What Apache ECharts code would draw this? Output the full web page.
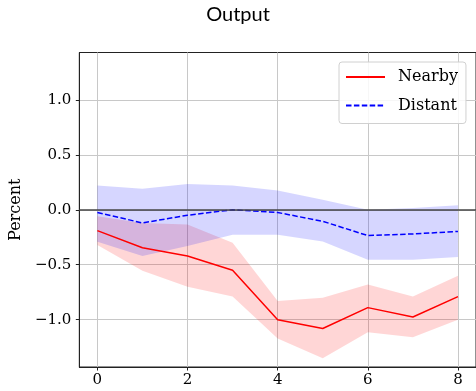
<!DOCTYPE html>
<html><head><meta charset="utf-8">
<script src="https://cdn.jsdelivr.net/npm/echarts@6/dist/echarts.min.js"></script>
<style>html,body{margin:0;padding:0;background:#fff}#c{width:476px;height:391px}</style>
</head><body><div id="c"></div>
<script>
var horizons = [0, 1, 2, 3, 4, 5, 6, 7, 8];
var nearby     = [-0.19, -0.345, -0.42, -0.55, -1.00, -1.08, -0.89, -0.975, -0.79];
var nearbyLow  = [-0.32, -0.555, -0.70, -0.79, -1.17, -1.35, -1.115, -1.16, -1.00];
var nearbyHigh = [-0.06, -0.12, -0.135, -0.30, -0.83, -0.80, -0.68, -0.79, -0.60];
var distant     = [-0.025, -0.12, -0.05, 0.0, -0.025, -0.105, -0.235, -0.22, -0.197];
var distantLow  = [-0.29, -0.42, -0.33, -0.227, -0.227, -0.288, -0.455, -0.455, -0.43];
var distantHigh = [0.22, 0.19, 0.235, 0.22, 0.175, 0.09, 0.0, 0.015, 0.04];
var xTicks = [0, 2, 4, 6, 8];
var yTicks = [-1.0, -0.5, 0.0, 0.5, 1.0];

function pairs(ys) { return horizons.map(function (h, i) { return [h, ys[i]]; }); }
function bandRows(lo, hi) { return horizons.map(function (h, i) { return [h, lo[i], hi[i]]; }); }
function bandRenderer(color) {
  return function (params, api) {
    if (params.dataIndexInside !== 0) return null;
    var n = params.dataInsideLength, top = [], bot = [];
    for (var j = 0; j < n; j++) {
      var x = api.value(0, j);
      top.push(api.coord([x, api.value(2, j)]));
      bot.unshift(api.coord([x, api.value(1, j)]));
    }
    return { type: 'polygon', shape: { points: top.concat(bot) }, style: { fill: color, stroke: null } };
  };
}

var serif = 'DejaVu Serif';
var chart = echarts.init(document.getElementById('c'));
chart.setOption({
  animation: false,
  title: { text: 'Output', left: 'center', top: 5, padding: 0, textStyle: { fontFamily: 'Lato', fontWeight: 'normal', fontSize: 20, color: '#000' } },
  grid: { left: 79, right: -2, top: 52.5, bottom: 24, show: true, borderColor: '#222', borderWidth: 1, backgroundColor: 'transparent' },
  legend: {
    orient: 'vertical', left: 339, top: 62, padding: [5, 8, 8, 6], itemGap: 8.5,
    itemWidth: 39, itemHeight: 14,
    itemStyle: { opacity: 0 },
    backgroundColor: 'rgba(255,255,255,0.85)', borderColor: '#d0d0d0', borderWidth: 1, borderRadius: 3,
    textStyle: { fontFamily: serif, fontSize: 16, color: '#000', lineHeight: 20, padding: [0, 0, 0, 8] },
    data: ['Nearby', 'Distant']
  },
  xAxis: {
    type: 'value', min: -0.4, max: 8.4,
    axisLine: { show: true, onZero: false, lineStyle: { color: '#222', width: 1 } },
    axisTick: { show: true, inside: false, length: 3.5, lineStyle: { color: '#222' }, customValues: xTicks },
    axisLabel: { customValues: xTicks, margin: 6, fontFamily: serif, fontSize: 15, color: '#000' },
    splitLine: { show: true, lineStyle: { color: '#c8c8c8', width: 1 } }
  },
  yAxis: {
    type: 'value', min: -1.43, max: 1.43,
    name: 'Percent', nameLocation: 'middle', nameGap: 55,
    nameTextStyle: { fontFamily: serif, fontSize: 16, color: '#000' },
    axisLine: { show: true, onZero: false, lineStyle: { color: '#222', width: 1 } },
    axisTick: { show: true, inside: false, length: 3.5, lineStyle: { color: '#222' }, customValues: yTicks },
    axisLabel: { customValues: yTicks, margin: 8, fontFamily: serif, fontSize: 15, color: '#000',
      formatter: function (v) { return v.toFixed(1).replace('-', '\u2212'); } },
    splitLine: { show: true, lineStyle: { color: '#c8c8c8', width: 1 } }
  },
  series: [
    { type: 'custom', name: 'nBand', data: bandRows(nearbyLow, nearbyHigh), renderItem: bandRenderer('rgba(255,0,0,0.16)'), silent: true, z: 1, encode: { x: 0, y: [1, 2] } },
    { type: 'custom', name: 'dBand', data: bandRows(distantLow, distantHigh), renderItem: bandRenderer('rgba(0,0,255,0.16)'), silent: true, z: 1, encode: { x: 0, y: [1, 2] } },
    { type: 'line', name: 'Nearby', data: pairs(nearby), symbol: 'none', color: '#ff0000', lineStyle: { color: '#ff0000', width: 1.5 }, z: 3 },
    { type: 'line', name: 'Distant', data: pairs(distant), symbol: 'none', color: '#0000ff', lineStyle: { color: '#0000ff', width: 1.5, type: [5.5, 2.4] }, z: 3,
      markLine: { silent: true, symbol: 'none', label: { show: false }, lineStyle: { color: '#444', width: 1.5, type: 'solid' }, data: [{ yAxis: 0 }] } }
  ]
});
</script></body></html>
